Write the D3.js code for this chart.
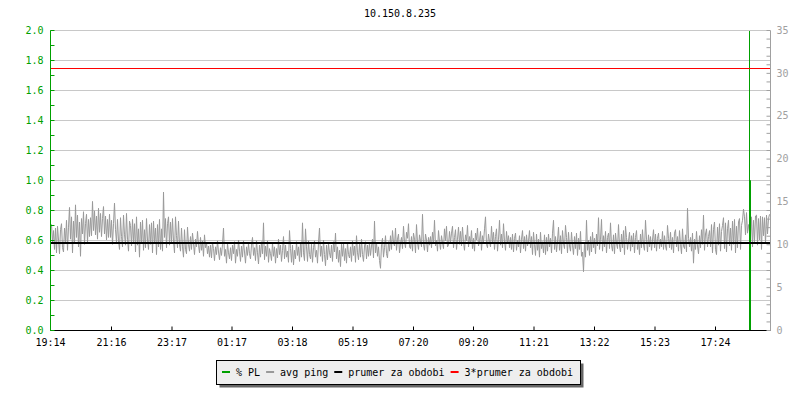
<!DOCTYPE html>
<html>
<head>
<meta charset="utf-8">
<script src="https://cdn.jsdelivr.net/npm/d3@7"></script>
<style>
body { margin: 0; background: #fff; }
text { font-family: "DejaVu Sans Mono", monospace; font-size: 10px; }
</style>
</head>
<body>
<svg id="chart" width="800" height="400"></svg>
<script>
//////////////// DATA ////////////////

var title = "10.150.8.235";

// start of the period, one ping sample every 2 minutes
var startTime = "19:14",
    stepMinutes = 2,
    periodMinutes = 1440;

// avg ping [ms], one value per sample
var pingValues = [
    11.8,12.3,10.2,11.6,9.4,11.9,9.0,12.1,10.5,8.9,11.7,12.4,9.6,9.1,11.9,10.3,12.8,9.3,12.0,14.3,
    10.6,13.2,9.0,12.7,10.1,14.6,10.8,13.4,9.7,12.6,8.6,13.0,11.2,13.8,10.0,12.4,13.5,10.2,12.9,10.9,
    13.1,11.0,15.0,11.6,13.9,11.1,13.3,10.6,14.2,11.4,13.6,10.9,13.0,14.4,11.2,13.3,10.5,12.9,10.8,13.5,
    10.8,12.8,10.0,12.4,14.8,11.7,10.2,12.9,10.4,9.4,13.1,10.9,9.7,13.4,11.1,9.9,13.6,10.6,9.2,12.7,
    12.2,9.8,12.9,10.2,12.4,9.1,13.2,9.9,11.8,8.5,12.6,10.1,12.8,9.3,11.7,9.6,13.0,10.5,9.4,12.3,
    10.0,12.5,9.0,12.7,10.2,11.9,8.8,12.3,9.7,12.9,9.4,11.8,9.2,16.1,10.8,13.0,9.6,12.4,13.2,9.9,
    12.6,10.1,13.0,10.4,9.0,13.2,11.0,9.6,12.7,10.0,9.2,11.9,9.7,8.5,11.7,9.4,8.9,12.0,10.0,9.2,
    10.9,9.4,11.3,10.1,8.8,10.6,9.7,11.5,9.9,9.0,10.8,9.3,10.4,8.6,11.1,9.6,10.2,8.9,9.8,8.5,
    9.9,8.4,10.2,9.5,8.1,9.7,8.8,10.4,9.1,8.2,9.6,8.7,10.0,11.9,8.6,9.4,7.8,10.1,9.0,8.3,
    9.6,8.1,9.9,8.9,10.3,7.8,9.4,8.6,10.5,9.2,8.0,9.8,8.5,10.4,9.1,7.8,9.7,8.7,10.1,8.9,
    8.3,9.9,10.8,8.7,9.6,8.1,10.4,9.0,7.7,9.9,8.5,10.3,8.9,12.5,8.2,9.8,8.6,10.4,7.9,9.5,
    8.9,8.1,10.2,8.6,9.7,7.8,9.5,8.4,10.6,8.8,9.9,8.0,9.3,10.9,8.3,9.9,8.5,9.2,7.9,11.6,
    9.5,7.9,9.9,7.6,9.3,8.3,10.3,8.7,9.7,8.0,10.1,8.5,12.5,9.0,8.1,11.8,9.7,8.0,10.4,8.8,
    8.3,10.0,7.9,9.6,10.4,8.5,9.3,7.8,10.2,11.9,8.6,9.8,8.0,10.5,8.8,7.5,9.9,8.2,10.1,9.0,
    8.4,9.9,8.0,10.3,9.1,11.3,8.3,9.7,7.9,9.3,7.4,10.0,8.6,10.1,8.1,9.5,7.8,10.2,8.8,8.4,
    9.7,8.0,10.4,8.7,9.8,7.9,11.0,9.0,8.2,10.0,8.5,10.6,8.8,8.0,9.8,10.3,8.3,9.9,8.6,10.2,
    8.7,9.8,10.6,8.4,12.7,9.0,10.2,8.6,9.7,8.1,7.2,10.0,10.7,8.5,9.6,11.0,8.9,8.4,10.3,9.2,
    11.0,9.4,11.6,10.2,9.8,11.9,9.3,10.6,11.2,9.0,10.1,10.8,9.5,12.1,10.3,9.6,11.4,10.7,12.4,9.7,
    9.5,10.9,9.2,11.3,10.6,9.0,12.3,10.2,9.4,11.1,10.4,9.7,13.5,10.0,9.3,11.2,10.5,9.1,10.8,9.9,
    10.9,9.6,11.4,10.1,12.8,9.8,10.5,9.2,11.6,10.3,9.4,11.0,10.2,9.5,11.8,10.4,12.1,9.7,9.9,11.5,
    10.2,11.3,12.1,9.6,10.8,11.7,9.4,10.6,12.0,10.0,11.5,9.8,12.0,10.3,9.3,11.1,10.4,12.2,9.7,10.9,
    10.1,11.6,9.5,10.7,9.2,11.3,10.5,11.9,9.8,10.4,11.5,9.3,11.0,10.2,11.8,13.2,10.0,9.6,11.2,10.3,
    9.7,12.1,10.2,11.4,9.4,10.9,11.8,9.2,10.6,12.8,9.9,11.2,9.6,12.4,10.4,9.3,11.5,10.1,11.0,9.6,
    10.8,9.4,11.2,9.1,10.7,11.3,9.3,10.5,9.7,11.0,9.0,10.6,11.6,9.5,10.9,9.2,11.1,9.8,10.4,11.6,
    9.6,10.9,8.8,11.4,10.0,8.7,11.2,9.3,10.6,8.5,11.4,9.5,10.3,9.0,11.1,8.8,10.8,9.2,11.2,9.7,
    10.7,9.0,11.3,12.8,9.4,10.9,9.1,10.4,12.0,9.3,11.0,8.9,11.6,10.1,9.5,12.2,10.8,9.0,11.4,9.8,
    9.2,11.4,9.9,8.8,10.9,9.5,11.3,8.7,10.7,9.4,11.5,8.6,9.1,6.8,10.2,8.5,12.8,9.3,10.5,8.7,
    10.9,9.1,11.4,9.6,10.7,8.9,11.2,9.8,13.1,9.4,10.6,12.9,9.2,11.0,9.7,11.5,9.0,10.8,11.3,9.5,
    12.5,9.9,9.2,11.1,8.9,11.3,10.1,9.5,12.3,9.8,9.1,11.2,9.6,11.6,8.8,12.1,10.8,9.4,10.4,11.4,
    9.2,11.0,9.7,11.3,9.0,10.8,11.6,9.4,10.5,8.8,11.2,9.6,11.7,9.9,9.3,12.8,10.6,9.1,11.1,9.7,
    10.9,9.3,10.5,11.7,9.6,11.2,9.2,10.7,11.3,9.5,10.6,9.7,11.5,9.4,11.0,9.8,9.3,12.2,10.7,9.6,
    11.4,9.4,10.8,9.0,11.3,11.7,9.7,10.9,9.2,11.6,10.0,8.9,11.8,9.8,9.5,11.1,9.1,14.2,10.7,9.7,
    10.8,9.2,11.3,7.8,10.6,9.4,11.5,9.8,8.9,11.0,9.6,11.7,10.0,13.4,9.3,11.2,11.8,9.7,10.9,11.6,
    9.7,12.3,9.0,11.7,12.6,9.4,8.8,12.0,9.9,12.4,9.2,11.5,12.2,13.1,9.5,12.5,9.1,11.8,12.8,9.8,
    11.9,9.3,12.7,10.0,12.9,9.0,12.1,9.6,12.6,13.0,9.4,12.2,12.8,14.1,13.2,11.1,13.7,11.3,12.3,11.5,
    10.8,13.2,9.7,12.8,10.3,13.3,13.4,9.9,13.0,10.5,13.3,9.4,13.2,11.0,13.1,10.1,13.4,11.2,13.0,13.5
];

// % packet loss: zero everywhere except these samples
var plSampleIndex = [699],
    plSampleValue = [1.0];

// average ping over the period [ms]
var meanPing = 10.15;

// axis ticks
var timeTickLabels = ["19:14", "21:16", "23:17", "01:17", "03:18", "05:19",
                      "07:20", "09:20", "11:21", "13:22", "15:23", "17:24"];
var plTicks = [0.0, 0.2, 0.4, 0.6, 0.8, 1.0, 1.2, 1.4, 1.6, 1.8, 2.0],
    plMinorTicks = [0.1, 0.3, 0.5, 0.7, 0.9, 1.1, 1.3, 1.5, 1.7, 1.9],
    pingTicks = [0, 5, 10, 15, 20, 25, 30, 35],
    pingMinorTicks = [1,2,3,4,6,7,8,9,11,12,13,14,16,17,18,19,21,22,23,24,26,27,28,29,31,32,33,34];

var legendNames = ["% PL", "avg ping", "prumer za obdobi", "3*prumer za obdobi"];

//////////////// STYLE ////////////////

var plColor = "#00a000",
    pingColor = "#999999",
    meanColor = "#000000",
    limitColor = "#ff0000",
    gridColor = "#c8c8c8",
    rightAxisColor = "#a0a0a0",
    legendColors = [plColor, pingColor, meanColor, limitColor];

var margin = {left: 50, right: 30, top: 30, bottom: 70},
    W = 800, H = 400;

//////////////// SCALES ////////////////

var parseHM = d3.timeParse("%Y-%m-%d %H:%M");
var t0 = parseHM("2014-01-01 " + startTime);
var toTime = function(label) {
    var t = parseHM("2014-01-01 " + label);
    if (t < t0) t = d3.timeDay.offset(t, 1);
    return t;
};

var x = d3.scaleTime()
    .domain([t0, d3.timeMinute.offset(t0, periodMinutes)])
    .range([margin.left, W - margin.right]);

var yPL = d3.scaleLinear().domain([0, 2]).range([H - margin.bottom, margin.top]);
var yPing = d3.scaleLinear().domain([0, 35]).range([H - margin.bottom, margin.top]);

var sampleTime = function(i) { return d3.timeMinute.offset(t0, i * stepMinutes); };

var pingData = pingValues.map(function(v, i) { return {t: sampleTime(i), v: v}; });
var plData = pingValues.map(function(v, i) {
    var k = plSampleIndex.indexOf(i);
    return {t: sampleTime(i), v: k < 0 ? 0 : plSampleValue[k]};
});

//////////////// DRAW ////////////////

var svg = d3.select("#chart");
svg.append("rect").attr("width", W).attr("height", H).attr("fill", "#fff");

var x0 = margin.left, x1 = W - margin.right,
    yTop = margin.top, yBot = H - margin.bottom;
var crisp = function(v) { return Math.round(v) + 0.5; };

// title
svg.append("text")
    .attr("x", W / 2).attr("y", 17)
    .attr("text-anchor", "middle")
    .text(title);

// grid
svg.append("g").selectAll("line")
    .data(plTicks.filter(function(d) { return d > 0 && d < 2; }))
    .enter().append("line")
    .attr("x1", x0).attr("x2", x1)
    .attr("y1", function(d) { return crisp(yPL(d)); })
    .attr("y2", function(d) { return crisp(yPL(d)); })
    .style("stroke", gridColor);

// clip for data
svg.append("clipPath").attr("id", "plot-clip")
    .append("rect").attr("x", x0).attr("y", yTop).attr("width", x1 - x0).attr("height", yBot - yTop);

var plot = svg.append("g").attr("clip-path", "url(#plot-clip)");

// avg ping
var pingLine = d3.line()
    .x(function(d) { return x(d.t) + 0.5; })
    .y(function(d) { return yPing(d.v); });
plot.append("path")
    .datum(pingData)
    .attr("d", pingLine)
    .style("fill", "none")
    .style("stroke", pingColor)
    .style("stroke-width", 1);

// % PL: step line plus a full height tick where loss > 0
var plLine = d3.line()
    .curve(d3.curveStepAfter)
    .x(function(d) { return x(d.t) + 0.5; })
    .y(function(d) { return crisp(yPL(d.v)); });
plot.append("path")
    .datum(plData)
    .attr("d", plLine)
    .style("fill", "none")
    .style("stroke", plColor)
    .style("stroke-width", 1);

plot.selectAll(".pl-tick")
    .data(plData.filter(function(d) { return d.v > 0; }))
    .enter().append("line")
    .attr("class", "pl-tick")
    .attr("x1", function(d) { return x(d.t) + 0.5; })
    .attr("x2", function(d) { return x(d.t) + 0.5; })
    .attr("y1", yBot).attr("y2", yTop)
    .style("stroke", plColor)
    .style("stroke-width", 1);

// mean and 3*mean
plot.append("line")
    .attr("x1", x0).attr("x2", x1)
    .attr("y1", Math.round(yPing(meanPing)))
    .attr("y2", Math.round(yPing(meanPing)))
    .style("stroke", meanColor).style("stroke-width", 2);
plot.append("line")
    .attr("x1", x0).attr("x2", x1)
    .attr("y1", crisp(yPing(3 * meanPing)) - 1)
    .attr("y2", crisp(yPing(3 * meanPing)) - 1)
    .style("stroke", limitColor).style("stroke-width", 1);

// top border
svg.append("line")
    .attr("x1", x0).attr("x2", x1)
    .attr("y1", yTop + 0.5).attr("y2", yTop + 0.5)
    .style("stroke", gridColor);

// bottom axis
var xAxis = d3.axisBottom(x)
    .tickValues(timeTickLabels.map(toTime))
    .tickFormat(d3.timeFormat("%H:%M"))
    .tickSizeInner(-4).tickSizeOuter(0).tickPadding(8).offset(0);
var gx = svg.append("g")
    .attr("transform", "translate(0.5," + (yBot + 0.5) + ")")
    .call(xAxis);
gx.selectAll("text").attr("fill", "#000").style("font-family", "DejaVu Sans Mono").style("font-size", "10px");
gx.selectAll("line, path").attr("stroke", "#000");

// left axis (% PL)
var gyMinor = svg.append("g")
    .attr("transform", "translate(" + (x0 + 0.5) + ",0.5)")
    .call(d3.axisLeft(yPL).tickValues(plMinorTicks).tickSize(-4).tickFormat("").offset(0));
gyMinor.select(".domain").remove();
gyMinor.selectAll("line").attr("stroke", plColor);

var gy = svg.append("g")
    .attr("transform", "translate(" + (x0 + 0.5) + ",0.5)")
    .call(d3.axisLeft(yPL).tickValues(plTicks).tickFormat(d3.format(".1f"))
        .tickSizeInner(-4).tickSizeOuter(0).tickPadding(7).offset(0));
gy.selectAll("line, path").attr("stroke", plColor);
gy.selectAll("text").attr("fill", plColor).style("font-family", "DejaVu Sans Mono").style("font-size", "10px");

// right axis (avg ping)
var gpMinor = svg.append("g")
    .attr("transform", "translate(" + (x1 + 0.5) + ",0.5)")
    .call(d3.axisRight(yPing).tickValues(pingMinorTicks).tickSize(-4).tickFormat("").offset(0));
gpMinor.select(".domain").remove();
gpMinor.selectAll("line").attr("stroke", rightAxisColor);

var gp = svg.append("g")
    .attr("transform", "translate(" + (x1 + 0.5) + ",0.5)")
    .call(d3.axisRight(yPing).tickValues(pingTicks)
        .tickSizeInner(-4).tickSizeOuter(0).tickPadding(6).offset(0));
gp.selectAll("line, path").attr("stroke", rightAxisColor);
gp.selectAll("text").attr("fill", rightAxisColor).style("font-family", "DejaVu Sans Mono").style("font-size", "10px");

//////////////// LEGEND ////////////////

var legend = svg.append("g");
var legShadow = legend.append("rect"),
    legBox = legend.append("rect");
var lx = 222, ly = 372;
legendNames.forEach(function(name, i) {
    legend.append("line")
        .attr("x1", lx).attr("x2", lx + 8)
        .attr("y1", ly).attr("y2", ly)
        .style("stroke", legendColors[i]).style("stroke-width", 2);
    var t = legend.append("text")
        .attr("x", lx + 14).attr("y", ly + 3.5)
        .attr("fill", "#000")
        .text(name);
    lx = lx + 14 + t.node().getComputedTextLength() + 6;
});
var boxL = 216.5, boxR = Math.round(lx + 1) + 0.5;
legShadow.attr("x", boxL + 3).attr("y", 363.5)
    .attr("width", boxR - boxL).attr("height", 24)
    .style("fill", "#666");
legBox.attr("x", boxL).attr("y", 360.5)
    .attr("width", boxR - boxL).attr("height", 24)
    .style("fill", "#eeeeee").style("stroke", "#000");
</script>
</body>
</html>
